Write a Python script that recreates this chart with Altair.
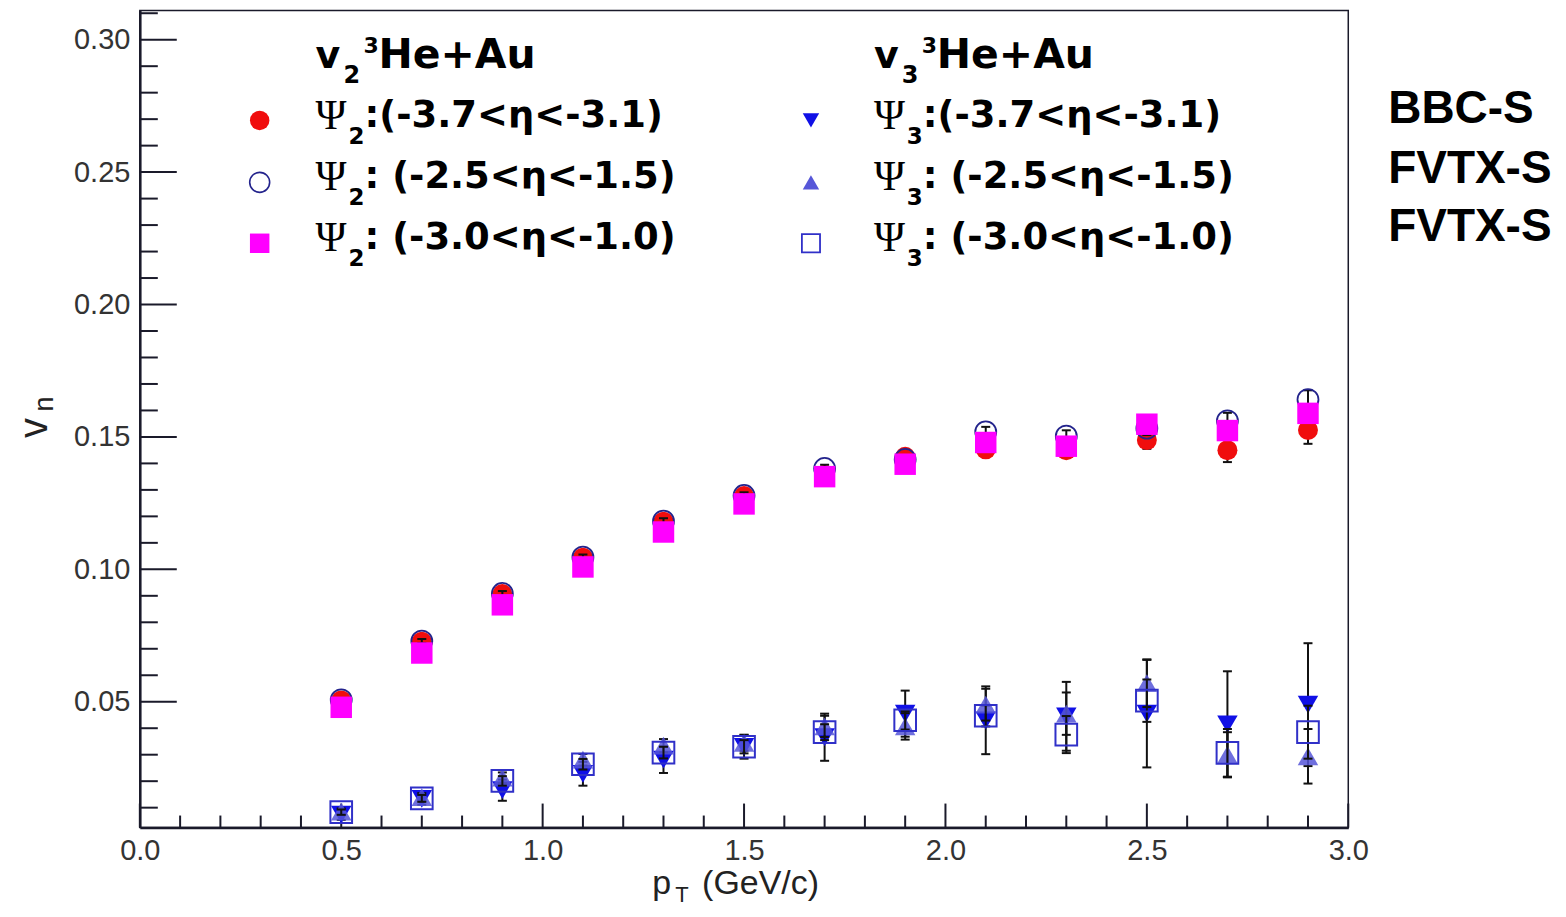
import altair as alt
import pandas as pd

# ---------------- data ----------------
pt = [0.5, 0.7, 0.9, 1.1, 1.3, 1.5, 1.7, 1.9, 2.1, 2.3, 2.5, 2.7, 2.9]

# v2, 3He+Au
v2_bbc = [0.0505, 0.0727, 0.0907, 0.1044, 0.1180, 0.1277, 0.1357, 0.1425, 0.1453, 0.1450, 0.1488, 0.1450, 0.1526]
v2_bbc_err = [0.0008, 0.0009, 0.0010, 0.0011, 0.0012, 0.0014, 0.0017, 0.0020, 0.0024, 0.0028, 0.0033, 0.0045, 0.0052]
v2_fvtx_a = [0.0507, 0.0729, 0.0909, 0.1046, 0.1182, 0.1279, 0.1381, 0.1415, 0.1519, 0.1503, 0.1533, 0.1561, 0.1641]
v2_fvtx_a_err = [0.0007, 0.0008, 0.0009, 0.0010, 0.0011, 0.0012, 0.0014, 0.0016, 0.0019, 0.0022, 0.0026, 0.0030, 0.0035]
v2_fvtx_b = [0.0479, 0.0684, 0.0866, 0.1009, 0.1141, 0.1247, 0.1350, 0.1397, 0.1479, 0.1465, 0.1548, 0.1524, 0.1589]
v2_fvtx_b_err = [0.0006, 0.0007, 0.0008, 0.0009, 0.0010, 0.0011, 0.0013, 0.0015, 0.0017, 0.0020, 0.0023, 0.0027, 0.0031]

# v3, 3He+Au
v3_bbc = [0.0074, 0.0133, 0.0166, 0.0228, 0.0281, 0.0330, 0.0366, 0.0455, 0.0430, 0.0445, 0.0455, 0.0415, 0.0489]
v3_bbc_err = [0.0020, 0.0022, 0.0040, 0.0045, 0.0050, 0.0045, 0.0089, 0.0087, 0.0128, 0.0130, 0.0203, 0.0200, 0.0232]
v3_fvtx_a = [0.0085, 0.0140, 0.0213, 0.0281, 0.0334, 0.0345, 0.0407, 0.0407, 0.0489, 0.0455, 0.0570, 0.0300, 0.0294]
v3_fvtx_a_err = [0.0012, 0.0015, 0.0020, 0.0022, 0.0025, 0.0030, 0.0040, 0.0050, 0.0060, 0.0080, 0.0090, 0.0085, 0.0103]
v3_fvtx_b = [0.0083, 0.0135, 0.0201, 0.0264, 0.0308, 0.0330, 0.0385, 0.0430, 0.0447, 0.0376, 0.0504, 0.0307, 0.0385]
v3_fvtx_b_err = [0.0010, 0.0013, 0.0018, 0.0020, 0.0022, 0.0025, 0.0030, 0.0035, 0.0040, 0.0070, 0.0080, 0.0090, 0.0100]

# axis ticks and labels
x_major = [0.0, 0.5, 1.0, 1.5, 2.0, 2.5, 3.0]
x_minor = [0.1, 0.2, 0.3, 0.4, 0.6, 0.7, 0.8, 0.9, 1.1, 1.2, 1.3, 1.4, 1.6, 1.7, 1.8, 1.9,
           2.1, 2.2, 2.3, 2.4, 2.6, 2.7, 2.8, 2.9]
y_major = [0.05, 0.10, 0.15, 0.20, 0.25, 0.30]
y_minor = [0.01, 0.02, 0.03, 0.04, 0.06, 0.07, 0.08, 0.09, 0.11, 0.12, 0.13, 0.14,
           0.16, 0.17, 0.18, 0.19, 0.21, 0.22, 0.23, 0.24, 0.26, 0.27, 0.28, 0.29, 0.31]
x_domain = [0.0, 3.0]
y_domain = [0.0025, 0.311]

# ---------------- layout ----------------
W, H = 1210, 818
OX, OY = 140, 10  # page position of the plot origin (8px page margin + padding)

xs = alt.Scale(domain=x_domain, nice=False, zero=False)
ys = alt.Scale(domain=y_domain, nice=False, zero=False)

x_axis = alt.Axis(values=x_major, format=".1f", ticks=False, grid=False, title=None,
                  domain=True, domainColor="#1a1a2a", domainWidth=2.5,
                  labelFont="Liberation Sans", labelFontSize=29, labelColor="#333",
                  labelPadding=9, labelFlush=False, labelOverlap=False)
y_axis = alt.Axis(values=y_major, format=".2f", ticks=False, grid=False, title=None,
                  domain=True, domainColor="#1a1a2a", domainWidth=2.5,
                  labelFont="Liberation Sans", labelFontSize=29, labelColor="#333",
                  labelPadding=10, labelFlush=False, labelOverlap=False)


def sdf(vals, errs):
    return pd.DataFrame({
        "pt": pt,
        "v": vals,
        "lo": [a - b for a, b in zip(vals, errs)],
        "hi": [a + b for a, b in zip(vals, errs)],
    })


def X(field="pt"):
    return alt.X(f"{field}:Q", scale=xs, axis=x_axis)


def Y(field="v"):
    return alt.Y(f"{field}:Q", scale=ys, axis=y_axis)


def errors(df):
    bar = alt.Chart(df).mark_rule(color="#111", strokeWidth=2).encode(
        x=X(), y=Y("lo"), y2=alt.Y2("hi:Q"))
    cap_lo = alt.Chart(df).mark_tick(orient="horizontal", size=9, thickness=2,
                                     color="#111", opacity=1).encode(x=X(), y=Y("lo"))
    cap_hi = alt.Chart(df).mark_tick(orient="horizontal", size=9, thickness=2,
                                     color="#111", opacity=1).encode(x=X(), y=Y("hi"))
    return [bar, cap_lo, cap_hi]


def points(df, **kw):
    return alt.Chart(df).mark_point(opacity=1, **kw).encode(x=X(), y=Y())


one = pd.DataFrame({"k": [0]})


def txt(s, x, y, size, font="DejaVu Sans", weight="bold", angle=0, align="left",
        baseline="alphabetic", color="#000"):
    return alt.Chart(one).mark_text(font=font, fontSize=size, fontWeight=weight, angle=angle,
                                    align=align, baseline=baseline, color=color).encode(
        x=alt.value(x - OX), y=alt.value(y - OY), text=alt.value(s))


def marker(x, y, **kw):
    return alt.Chart(one).mark_point(opacity=1, **kw).encode(
        x=alt.value(x - OX), y=alt.value(y - OY))


RED = "#f00d0d"
NAVY = "#23238c"
MAG = "#ff00ff"
BLUE = "#1010e6"
LBLUE = "#5656d8"
SQB = "#3030c8"

layers = []

# inward tick marks
tick_color = "#1a1a2a"
layers.append(alt.Chart(pd.DataFrame({"t": y_major})).mark_rule(color=tick_color, strokeWidth=2).encode(
    y=Y("t"), x=alt.value(0), x2=alt.value(37)))
layers.append(alt.Chart(pd.DataFrame({"t": y_minor})).mark_rule(color=tick_color, strokeWidth=2).encode(
    y=Y("t"), x=alt.value(0), x2=alt.value(18)))
layers.append(alt.Chart(pd.DataFrame({"t": x_major})).mark_rule(color=tick_color, strokeWidth=2).encode(
    x=X("t"), y=alt.value(H), y2=alt.value(H - 24)))
layers.append(alt.Chart(pd.DataFrame({"t": x_minor})).mark_rule(color=tick_color, strokeWidth=2).encode(
    x=X("t"), y=alt.value(H), y2=alt.value(H - 12)))

# v2 series
d = sdf(v2_bbc, v2_bbc_err)
layers += errors(d)
layers.append(points(d, shape="circle", filled=True, size=400, color=RED))
d = sdf(v2_fvtx_a, v2_fvtx_a_err)
layers += errors(d)
layers.append(points(d, shape="circle", filled=False, size=441, color=NAVY, strokeWidth=1.8))
d = sdf(v2_fvtx_b, v2_fvtx_b_err)
layers += errors(d)
layers.append(points(d, shape="square", filled=True, size=462, color=MAG))

# v3 series
d = sdf(v3_bbc, v3_bbc_err)
layers += errors(d)
layers.append(points(d, shape="triangle-down", filled=True, size=420, color=BLUE))
d = sdf(v3_fvtx_a, v3_fvtx_a_err)
layers += errors(d)
layers.append(alt.Chart(d).mark_point(shape="triangle-up", filled=True, size=420, color=LBLUE,
                                      opacity=0.85).encode(x=X(), y=Y()))
d = sdf(v3_fvtx_b, v3_fvtx_b_err)
layers += errors(d)
layers.append(points(d, shape="square", filled=False, size=470, color=SQB, strokeWidth=2))

# ---------------- legend (drawn inside the frame) ----------------
rows_y = [127, 188, 249]
mk_y = [120, 182, 243]
ranges = [":(-3.7<η<-3.1)", ": (-2.5<η<-1.5)", ": (-3.0<η<-1.0)"]

for col, (n, dx, mdx) in enumerate([("2", 0, 0), ("3", 559, 552)]):
    # header  v_n ^3He+Au
    layers.append(txt("v", 316 + dx, 67, 38))
    layers.append(txt(n, 344 + dx, 83, 24))
    layers.append(txt("3", 364 + dx, 52, 22))
    layers.append(txt("He+Au", 379 + dx, 67, 41))
    for i in range(3):
        layers.append(txt("Ψ", 316 + dx, rows_y[i] + 2, 42, font="Liberation Serif", weight="normal"))
        layers.append(txt(n, 349 + dx, rows_y[i] + 17, 23))
        layers.append(txt(ranges[i], 365 + dx, rows_y[i], 37))

# left legend markers
layers.append(marker(260, mk_y[0], shape="circle", filled=True, size=380, color=RED))
layers.append(marker(260, mk_y[1], shape="circle", filled=False, size=400, color=NAVY, strokeWidth=1.6))
layers.append(marker(260, mk_y[2], shape="square", filled=True, size=380, color=MAG))
# right legend markers
layers.append(marker(812, mk_y[0], shape="triangle-down", filled=True, size=270, color=BLUE))
layers.append(marker(812, mk_y[1], shape="triangle-up", filled=True, size=270, color=LBLUE))
layers.append(marker(812, mk_y[2], shape="square", filled=False, size=330, color=SQB, strokeWidth=1.8))

# detector labels outside the frame
layers.append(txt("BBC-S", 1390, 123, 46, font="Liberation Sans"))
layers.append(txt("FVTX-S", 1390, 183, 46, font="Liberation Sans"))
layers.append(txt("FVTX-S", 1390, 241, 46, font="Liberation Sans"))

# axis titles
layers.append(txt("v", 47, 428, 40, font="Liberation Sans", weight="normal", angle=270,
                  align="center", color="#222"))
layers.append(txt("n", 53, 404, 27, font="Liberation Sans", weight="normal", angle=270,
                  align="center", color="#222"))
layers.append(txt("p", 653, 895, 34, font="Liberation Sans", weight="normal", color="#222"))
layers.append(txt("T", 676, 903, 22, font="Liberation Sans", weight="normal", color="#222"))
layers.append(txt("(GeV/c)", 703, 895, 34, font="Liberation Sans", weight="normal", color="#222"))

chart = alt.layer(*layers).properties(
    width=W, height=H,
    autosize=alt.AutoSizeParams(type="none"),
    padding={"left": 132, "top": 2, "right": 210, "bottom": 80},
    background="white",
).configure_view(stroke="#1a1a2a", strokeWidth=1.5)

chart.save("out.html", embed_options={"renderer": "svg", "actions": False})
